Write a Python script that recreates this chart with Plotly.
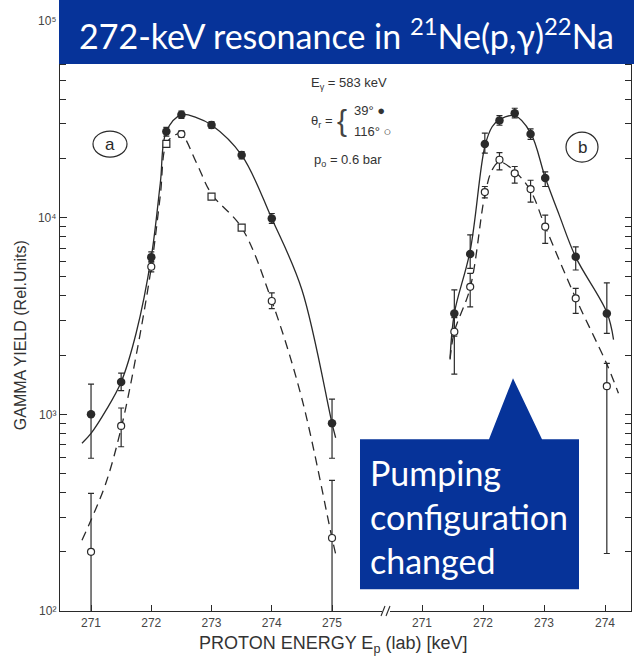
import plotly.graph_objects as go

# ---------------- data ----------------
# panel (a)
a_filled_x = [271.0, 271.5, 272.0, 272.25, 272.5, 273.0, 273.5, 274.0, 275.0]
a_filled_y = [1000, 1460, 6300, 27400, 33400, 29600, 20800, 9900, 900]
a_filled_hi = [1425, 1620, 6700, 28800, 34800, 30800, 21700, 10500, 1194]
a_filled_lo = [598, 1320, 5900, 26000, 32000, 28400, 19900, 9350, 598]

a_open_circ_x = [271.0, 271.5, 272.0, 272.5, 274.0, 275.0]
a_open_circ_y = [200, 873, 5630, 26600, 3770, 235]
a_open_circ_hi = [396, 1077, 6000, 27600, 4150, 462]
a_open_circ_lo = [90, 684, 5300, 25600, 3450, 90]

a_open_sq_x = [272.25, 273.0, 273.5]
a_open_sq_y = [23700, 12800, 8900]

a_solid_x = [270.85, 271.0, 271.25, 271.5, 271.75, 272.0, 272.15, 272.25, 272.5,
             272.75, 273.0, 273.5, 274.0, 274.5, 275.0, 275.06]
a_solid_y = [713, 800, 1050, 1460, 2600, 6300, 15000, 27400, 33400,
             32300, 29600, 20800, 9900, 4300, 900, 760]

a_dash_x = [270.85, 271.0, 271.25, 271.5, 271.75, 272.0, 272.15, 272.25, 272.4,
            272.5, 272.75, 273.0, 273.5, 274.0, 274.5, 275.0, 275.06]
a_dash_y = [229, 290, 450, 850, 2000, 5600, 13000, 23700, 26400,
            26600, 19000, 13200, 8900, 3770, 1200, 235, 195]

# panel (b)
b_filled_x = [271.53, 271.79, 272.03, 272.27, 272.52, 272.78, 273.02, 273.52, 274.03]
b_filled_y = [3260, 6530, 23700, 31200, 34000, 26600, 15900, 6330, 3260]
b_filled_hi = [4290, 8170, 26900, 33000, 36000, 28300, 17100, 7110, 4660]
b_filled_lo = [2500, 5520, 21300, 29500, 32200, 25000, 14400, 5420, 2580]

b_open_x = [271.53, 271.79, 272.03, 272.27, 272.52, 272.78, 273.02, 273.52, 274.03]
b_open_y = [2630, 4450, 13500, 19700, 16800, 13970, 9000, 3890, 1390]
b_open_hi = [3100, 5210, 14400, 21400, 18200, 15500, 10300, 4370, 1816]
b_open_lo = [1600, 3520, 12600, 17500, 14970, 12000, 7400, 3260, 196]

b_solid_x = [271.46, 271.53, 271.79, 272.03, 272.15, 272.27, 272.52, 272.78,
             273.02, 273.25, 273.52, 274.03, 274.14]
b_solid_y = [1920, 3260, 6800, 23000, 29000, 31500, 33000, 27000,
             16000, 10300, 6300, 3300, 2400]

b_dash_x = [271.46, 271.53, 271.79, 272.03, 272.15, 272.27, 272.52, 272.78,
            273.02, 273.52, 274.03, 274.22]
b_dash_y = [1900, 2630, 4400, 13000, 17500, 19200, 17200, 13700,
            9000, 3900, 1800, 1280]

a_ticks = [271, 272, 273, 274, 275]
b_ticks = [271, 272, 273, 274]
y_decades = [100, 1000, 10000, 100000]
y_decade_labels = ["10²", "10³", "10⁴", "10⁵"]

# ---------------- geometry helpers ----------------
L, R, T, B = 60, 631, 21, 610.7
W, H = R - L, B - T
BREAK = 386


def px(x):
    return (x - L) / W


def py(y):
    return (B - y) / H


INK = "#2a2a2a"
BLUE = "#063399"

fig = go.Figure()


def err(y, hi, lo):
    return dict(type="data", symmetric=False,
                array=[h - v for h, v in zip(hi, y)],
                arrayminus=[v - l for v, l in zip(y, lo)],
                color=INK, thickness=1.2, width=3)


# panel a
fig.add_trace(go.Scatter(x=a_solid_x, y=a_solid_y, mode="lines", xaxis="x", yaxis="y",
                         line=dict(color=INK, width=1.3, shape="spline", smoothing=1.0)))
fig.add_trace(go.Scatter(x=a_dash_x, y=a_dash_y, mode="lines", xaxis="x", yaxis="y",
                         line=dict(color=INK, width=1.3, shape="spline", smoothing=1.0,
                                   dash="9px,6px")))
fig.add_trace(go.Scatter(x=a_filled_x, y=a_filled_y, mode="markers", xaxis="x", yaxis="y",
                         error_y=err(a_filled_y, a_filled_hi, a_filled_lo),
                         marker=dict(symbol="circle", size=8.5, color=INK)))
fig.add_trace(go.Scatter(x=a_open_circ_x, y=a_open_circ_y, mode="markers", xaxis="x", yaxis="y",
                         error_y=err(a_open_circ_y, a_open_circ_hi, a_open_circ_lo),
                         marker=dict(symbol="circle", size=7, color="white",
                                     line=dict(color=INK, width=1.2))))
fig.add_trace(go.Scatter(x=a_open_sq_x, y=a_open_sq_y, mode="markers", xaxis="x", yaxis="y",
                         marker=dict(symbol="square", size=7, color="white",
                                     line=dict(color=INK, width=1.2))))

# panel b
fig.add_trace(go.Scatter(x=b_solid_x, y=b_solid_y, mode="lines", xaxis="x2", yaxis="y2",
                         line=dict(color=INK, width=1.3, shape="spline", smoothing=1.0)))
fig.add_trace(go.Scatter(x=b_dash_x, y=b_dash_y, mode="lines", xaxis="x2", yaxis="y2",
                         line=dict(color=INK, width=1.3, shape="spline", smoothing=1.0,
                                   dash="9px,6px")))
fig.add_trace(go.Scatter(x=b_filled_x, y=b_filled_y, mode="markers", xaxis="x2", yaxis="y2",
                         error_y=err(b_filled_y, b_filled_hi, b_filled_lo),
                         marker=dict(symbol="circle", size=8.5, color=INK)))
fig.add_trace(go.Scatter(x=b_open_x, y=b_open_y, mode="markers", xaxis="x2", yaxis="y2",
                         error_y=err(b_open_y, b_open_hi, b_open_lo),
                         marker=dict(symbol="circle", size=7, color="white",
                                     line=dict(color=INK, width=1.2))))

# log ticks positions (1..9 per decade)
minor_vals = []
for d in y_decades[:-1]:
    for k in range(1, 10):
        minor_vals.append(d * k)
minor_vals.append(y_decades[-1])

split = px(BREAK)
tickfont = dict(family="Liberation Sans", size=12, color="#444")

fig.update_layout(
    width=634, height=658,
    margin=dict(l=L, r=634 - R, t=T, b=658 - B),
    paper_bgcolor="white", plot_bgcolor="white",
    showlegend=False,
    xaxis=dict(domain=[0, split], range=[270.485, 270.485 + (BREAK - L) / 60.25],
               tickvals=a_ticks, ticktext=[str(t) for t in a_ticks],
               ticks="inside", ticklen=6, tickcolor=INK, tickfont=tickfont,
               showline=True, linecolor=INK, linewidth=1.3, showgrid=False,
               zeroline=False, anchor="y"),
    xaxis2=dict(domain=[split, 1], range=[271 - (422 - BREAK) / 61.0, 271 + (R - 422) / 61.0],
                tickvals=b_ticks, ticktext=[str(t) for t in b_ticks],
                ticks="inside", ticklen=6, tickcolor=INK, tickfont=tickfont,
                showline=True, linecolor=INK, linewidth=1.3, showgrid=False,
                zeroline=False, anchor="y2"),
    yaxis=dict(type="log", range=[2, 5], tickvals=y_decades, ticktext=y_decade_labels,
               ticks="inside", ticklen=7, tickcolor=INK, tickfont=tickfont,
               showline=True, linecolor=INK, linewidth=1.3, showgrid=False,
               zeroline=False, anchor="x"),
    yaxis2=dict(type="log", range=[2, 5], tickvals=minor_vals, showticklabels=False,
                side="right", overlaying="y",
                ticks="inside", ticklen=6, tickcolor=INK,
                showline=True, linecolor=INK, linewidth=1.3, showgrid=False,
                zeroline=False, anchor="x2"),
    yaxis3=dict(type="log", range=[2, 5], tickvals=minor_vals, showticklabels=False,
                side="left", overlaying="y",
                ticks="inside", ticklen=6, tickcolor=INK,
                showline=False, showgrid=False, zeroline=False, anchor="x"),
)
# dummy invisible trace so yaxis3 is drawn
fig.add_trace(go.Scatter(x=[a_ticks[0]], y=[y_decades[1]], xaxis="x", yaxis="y3",
                         mode="markers", marker=dict(opacity=0), hoverinfo="skip"))

shapes = []
# axis break mark
shapes.append(dict(type="rect", xref="paper", yref="paper", x0=px(BREAK - 4), x1=px(BREAK + 4),
                   y0=py(B + 2), y1=py(B - 2), fillcolor="white", line=dict(width=0)))
for dx in (-3, 2):
    shapes.append(dict(type="line", xref="paper", yref="paper",
                       x0=px(BREAK + dx - 2), y0=py(B + 5), x1=px(BREAK + dx + 2), y1=py(B - 5),
                       line=dict(color=INK, width=1.1)))
# (a) and (b) circles
shapes.append(dict(type="circle", xref="paper", yref="paper",
                   x0=px(93), x1=px(127), y0=py(157), y1=py(131),
                   line=dict(color=INK, width=1.2)))
shapes.append(dict(type="circle", xref="paper", yref="paper",
                   x0=px(566), x1=px(598), y0=py(162), y1=py(132),
                   line=dict(color=INK, width=1.2)))
# title box
shapes.append(dict(type="rect", xref="paper", yref="paper", x0=px(59), x1=px(634),
                   y0=py(64), y1=py(0), fillcolor=BLUE, line=dict(width=0), layer="above"))
# callout
pts = [(360, 439), (489, 439), (513, 378), (542, 439), (579, 439), (579, 589), (360, 589)]
path = "M " + " L ".join(f"{px(x):.5f},{py(y):.5f}" for x, y in pts) + " Z"
shapes.append(dict(type="path", xref="paper", yref="paper", path=path,
                   fillcolor=BLUE, line=dict(width=0), layer="above"))
fig.update_layout(shapes=shapes)

small = dict(family="Liberation Sans", size=13, color="#333")
ann = [
    dict(x=px(346), y=py(34), text="272-keV resonance in <sup>21</sup>Ne(p,γ)<sup>22</sup>Na",
         font=dict(family="Lato", size=34, color="white"), xanchor="center", yanchor="middle"),
    dict(x=px(368), y=py(516), align="left",
         text="Pumping<br>configuration<br>changed",
         font=dict(family="Lato", size=34, color="white"), xanchor="left", yanchor="middle"),
    dict(x=px(309), y=py(83), text="E<sub>γ</sub> = 583 keV", font=small,
         xanchor="left", yanchor="middle"),
    dict(x=px(309), y=py(121), text="θ<sub>r</sub> =", font=small,
         xanchor="left", yanchor="middle"),
    dict(x=px(342), y=py(120), text="{", font=dict(family="Liberation Sans", size=30, color="#444"),
         xanchor="center", yanchor="middle"),
    dict(x=px(352), y=py(110), text="39° ●", font=small, xanchor="left", yanchor="middle"),
    dict(x=px(352), y=py(131), text="116° ○", font=small, xanchor="left", yanchor="middle"),
    dict(x=px(312), y=py(160), text="p<sub>o</sub> = 0.6 bar", font=small,
         xanchor="left", yanchor="middle"),
    dict(x=px(110), y=py(144), text="a", font=dict(family="Liberation Sans", size=17, color=INK),
         xanchor="center", yanchor="middle"),
    dict(x=px(582), y=py(147), text="b", font=dict(family="Liberation Sans", size=17, color=INK),
         xanchor="center", yanchor="middle"),
    dict(x=px(20), y=py(335), text="GAMMA YIELD (Rel.Units)", textangle=-90,
         font=dict(family="Liberation Sans", size=16, color="#333"),
         xanchor="center", yanchor="middle"),
    dict(x=px(333), y=py(644), text="PROTON ENERGY E<sub>p</sub> (lab) [keV]",
         font=dict(family="Liberation Sans", size=18, color="#333"),
         xanchor="center", yanchor="middle"),
]
fig.update_layout(annotations=[dict(a, xref="paper", yref="paper", showarrow=False) for a in ann])

fig.write_html("out.html")
